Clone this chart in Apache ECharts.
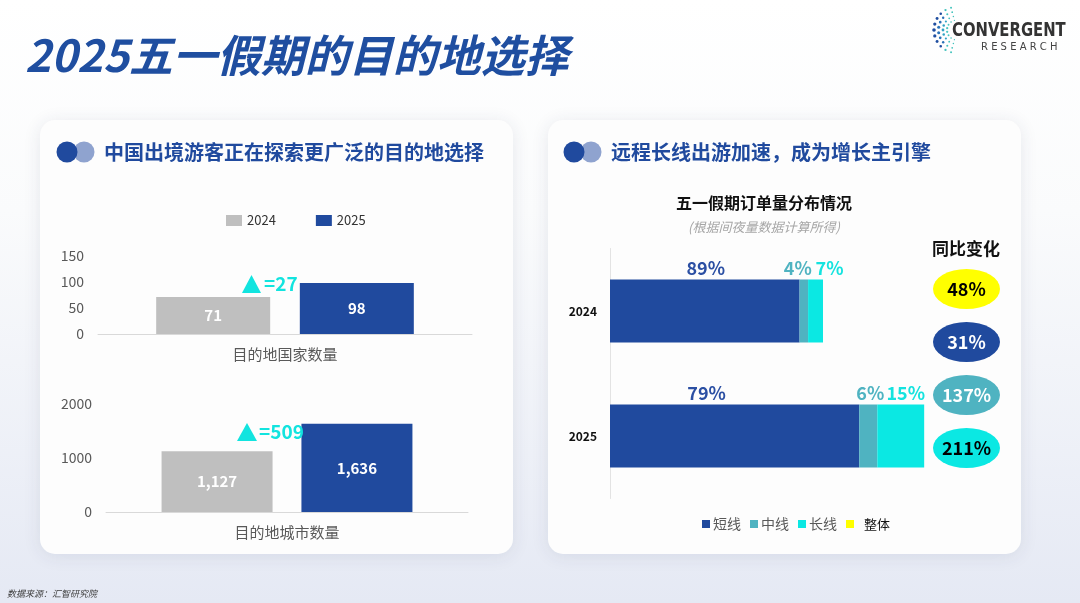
<!DOCTYPE html>
<html><head><meta charset="utf-8">
<script src="https://cdn.jsdelivr.net/npm/echarts@6/dist/echarts.min.js"></script>
<style>html,body{margin:0;padding:0;width:1080px;height:603px;overflow:hidden;background:#fff}
#c{width:1080px;height:603px}</style></head>
<body><div id="c"></div>
<script>
// ---------- data ----------
const years = ['2024', '2025'];
const countryCat = ['目的地国家数量'];
const cityCat = ['目的地城市数量'];
const countries = [71, 98];
const cities = [1127, 1636];
const countryTicks = { min: 0, max: 150, interval: 50 };
const cityTicks = { min: 0, max: 2000, interval: 1000 };

const orderYears = ['2024', '2025'];
const segNames = ['短线', '中线', '长线'];
const shortVol = [89, 117];     // relative order volume (2024 total = 100)
const midVol = [4, 8.5];
const longVol = [7, 22];
const shortPct = ['89%', '79%'];
const midPct = ['4%', '6%'];
const longPct = ['7%', '15%'];
const yoyNames = ['整体', '短线', '中线', '长线'];
const yoyValues = ['48%', '31%', '137%', '211%'];

// ---------- styles ----------
const FONT = '"Noto Sans CJK SC", "Noto Sans", sans-serif';
const BLUE = '#204a9e', GRAY = '#bfbfbf', TEAL = '#4fb3c1', CYAN = '#0be8e3', YELLOW = '#ffff00';
const ACCENT = '#12e4df';
const segColors = [BLUE, TEAL, CYAN];
const segLabelColors = ['#2b4fa3', '#4fb3c1', '#14e3df'];
const segLabelOffsets = [[[1, 0], [-28, 0]], [[-6, 0], [2, 0]], [[14, 0], [5, 0]]];
const yoyColors = [YELLOW, BLUE, TEAL, CYAN];
const yoyText = ['#000', '#fff', '#fff', '#000'];

const chart = echarts.init(document.getElementById('c'), null, { renderer: 'canvas' });

// logo dots (decoration)
const logoDots = [];
const rings = [{ r: 23, c: '#1f4ea0', s: 1.8 }, { r: 18.5, c: '#2a72b8', s: 1.6 }, { r: 14, c: '#2fa3c4', s: 1.4 }, { r: 10, c: '#49c7bf', s: 1.2 }];
rings.forEach((rg, k) => {
  const n = 11 - k;
  for (let i = 0; i < n; i++) {
    const a = (105 + (150 * i) / (n - 1)) * Math.PI / 180;
    const edge = Math.abs(i - (n - 1) / 2) / ((n - 1) / 2);
    logoDots.push({
      type: 'circle', z: 5,
      shape: { cx: 957 + rg.r * Math.cos(a), cy: 30 - rg.r * Math.sin(a), r: rg.s * (1 - 0.45 * edge) },
      style: { fill: edge > 0.6 ? '#43c3bd' : rg.c }
    });
  }
});

function card(x) {
  return {
    type: 'rect', z: -5,
    shape: { x: x, y: 120, width: 473, height: 434, r: 15 },
    style: { fill: '#fdfdfd', shadowBlur: 18, shadowColor: 'rgba(40,50,90,0.10)', shadowOffsetY: 2 }
  };
}
function header(x, text) {
  return [
    { type: 'circle', z: 5, shape: { cx: x + 27, cy: 152, r: 10.5 }, style: { fill: '#8fa3cf' } },
    { type: 'circle', z: 6, shape: { cx: x + 10, cy: 152, r: 10.5 }, style: { fill: BLUE } },
    { type: 'text', z: 6, x: x + 47, y: 152, style: { text: text, fill: BLUE, font: 'bold 20px ' + FONT, textVerticalAlign: 'middle' } }
  ];
}

const catAxisCommon = {
  type: 'category',
  axisLine: { lineStyle: { color: '#d9d9d9', width: 1 } },
  axisTick: { show: false },
  axisLabel: { color: '#595959', fontSize: 15, fontFamily: FONT, margin: 13 }
};
const valAxisCommon = {
  type: 'value',
  axisLine: { show: false }, axisTick: { show: false }, splitLine: { show: false },
  axisLabel: { color: '#595959', fontSize: 14, fontFamily: FONT, margin: 14, formatter: v => String(v) }
};
const barLabel = {
  show: true, position: 'inside', color: '#fff', fontWeight: 'bold', fontSize: 15, fontFamily: FONT,
  formatter: p => p.value.toLocaleString('en-US')
};

const option = {
  animation: false,
  textStyle: { fontFamily: FONT },
  graphic: [
    {
      type: 'rect', z: -10, shape: { x: 0, y: 0, width: 1080, height: 603 },
      style: { fill: new echarts.graphic.LinearGradient(0, 0, 0, 1, [
        { offset: 0, color: '#ffffff' }, { offset: 0.35, color: '#fafbfc' }, { offset: 1, color: '#e5e9f4' }]) }
    },
    card(40), card(548),
    { type: 'text', z: 6, x: 25, y: 55, style: { text: '2025五一假期的目的地选择', fill: '#1f4ea0', font: 'italic bold 44px ' + FONT, textVerticalAlign: 'middle' } },
    ...logoDots,
    { type: 'text', z: 6, x: 952, y: 31, scaleX: 0.78, style: { text: 'CONVERGENT', fill: '#333', font: 'bold 19px "DejaVu Sans", sans-serif', textVerticalAlign: 'middle' } },
    { type: 'text', z: 6, x: 981, y: 47, style: { text: 'R E S E A R C H', fill: '#444', font: '10px "DejaVu Sans", sans-serif', textVerticalAlign: 'middle' } },
    ...header(57, '中国出境游客正在探索更广泛的目的地选择'),
    ...header(564, '远程长线出游加速，成为增长主引擎'),
    // delta annotations
    { type: 'polygon', z: 6, shape: { points: [[242, 293], [251.5, 275], [261, 293]] }, style: { fill: ACCENT } },
    { type: 'text', z: 6, x: 264, y: 284, style: { text: '=' + (countries[1] - countries[0]), fill: ACCENT, font: 'bold 19px ' + FONT, textVerticalAlign: 'middle' } },
    { type: 'polygon', z: 6, shape: { points: [[237, 441], [247, 423], [257, 441]] }, style: { fill: ACCENT } },
    { type: 'text', z: 6, x: 259, y: 432, style: { text: '=' + (cities[1] - cities[0]), fill: ACCENT, font: 'bold 19px ' + FONT, textVerticalAlign: 'middle' } },
    // right chart titles
    { type: 'text', z: 6, x: 764, y: 203, style: { text: '五一假期订单量分布情况', fill: '#111', font: 'bold 16px ' + FONT, textAlign: 'center', textVerticalAlign: 'middle' } },
    { type: 'text', z: 6, x: 764, y: 227, style: { text: '(根据间夜量数据计算所得)', fill: '#a6a6a6', font: 'italic 13px ' + FONT, textAlign: 'center', textVerticalAlign: 'middle' } },
    { type: 'text', z: 6, x: 966, y: 249, style: { text: '同比变化', fill: '#111', font: 'bold 17px ' + FONT, textAlign: 'center', textVerticalAlign: 'middle' } },
    { type: 'text', z: 6, x: 7, y: 594, style: { text: '数据来源：汇智研究院', fill: '#404040', font: 'italic 9px ' + FONT, textVerticalAlign: 'middle' } }
  ],
  legend: [
    {
      data: years, left: 221, top: 209, itemWidth: 16, itemHeight: 11, itemGap: 40, icon: 'rect',
      textStyle: { color: '#333', fontSize: 13, fontFamily: FONT }
    },
    {
      data: [
        { name: '短线' }, { name: '中线' }, { name: '长线' },
        { name: '整体', textStyle: { color: '#111', fontSize: 13, padding: [0, 0, 0, 5] } }
      ],
      left: 697, top: 512, itemWidth: 8, itemHeight: 8, itemGap: 9, icon: 'rect',
      textStyle: { color: '#595959', fontSize: 14, fontFamily: FONT, padding: [0, 0, 0, -2] }
    }
  ],
  grid: [
    { left: 98, width: 374, top: 256, height: 78 },
    { left: 106, width: 362, top: 404, height: 108 },
    { left: 610, width: 426, top: 248.5, height: 250 },
    { left: 933, width: 67, top: 262.5, height: 212 }
  ],
  xAxis: [
    Object.assign({}, catAxisCommon, { gridIndex: 0, data: countryCat }),
    Object.assign({}, catAxisCommon, { gridIndex: 1, data: cityCat }),
    { type: 'value', gridIndex: 2, min: 0, max: 200, show: false },
    { type: 'value', gridIndex: 3, min: 0, max: 1, show: false }
  ],
  yAxis: [
    Object.assign({}, valAxisCommon, { gridIndex: 0 }, countryTicks),
    Object.assign({}, valAxisCommon, { gridIndex: 1 }, cityTicks),
    {
      type: 'category', gridIndex: 2, data: orderYears, inverse: true,
      axisLine: { lineStyle: { color: '#e3e3e3' } }, axisTick: { show: false },
      axisLabel: { color: '#111', fontWeight: 'bold', fontSize: 12, fontFamily: FONT, margin: 13 }
    },
    { type: 'category', gridIndex: 3, data: yoyNames, inverse: true, show: false }
  ],
  series: [
    { name: years[0], type: 'bar', xAxisIndex: 0, yAxisIndex: 0, data: [countries[0]], barWidth: 114, barGap: '26%', itemStyle: { color: GRAY }, label: barLabel },
    { name: years[1], type: 'bar', xAxisIndex: 0, yAxisIndex: 0, data: [countries[1]], barWidth: 114, barGap: '26%', itemStyle: { color: BLUE }, label: barLabel },
    { name: years[0], type: 'bar', xAxisIndex: 1, yAxisIndex: 1, data: [cities[0]], barWidth: 111, barGap: '26%', itemStyle: { color: GRAY }, label: barLabel },
    { name: years[1], type: 'bar', xAxisIndex: 1, yAxisIndex: 1, data: [cities[1]], barWidth: 111, barGap: '26%', itemStyle: { color: BLUE }, label: barLabel },
    ...[shortVol, midVol, longVol].map((vals, s) => ({
      name: segNames[s], type: 'bar', stack: 'orders', xAxisIndex: 2, yAxisIndex: 2, barWidth: 63,
      itemStyle: { color: segColors[s] },
      data: vals.map((v, i) => ({
        value: v,
        label: {
          show: true, position: 'top', distance: 2, offset: segLabelOffsets[s][i],
          color: segLabelColors[s], fontSize: 18, fontWeight: 'bold', fontFamily: FONT,
          formatter: [shortPct, midPct, longPct][s][i]
        }
      }))
    })),
    {
      name: '整体', type: 'scatter', xAxisIndex: 3, yAxisIndex: 3, symbol: 'circle', symbolSize: [67, 40],
      itemStyle: { color: yoyColors[0], opacity: 1 },
      data: [{ value: [0.5, yoyNames[0]], label: { show: true, position: 'inside', formatter: yoyValues[0], color: yoyText[0], fontSize: 18, fontWeight: 'bold', fontFamily: FONT } }]
    },
    {
      name: 'yoy', type: 'scatter', xAxisIndex: 3, yAxisIndex: 3, symbol: 'circle', symbolSize: [67, 40],
      data: [1, 2, 3].map(i => ({
        value: [0.5, yoyNames[i]],
        itemStyle: { color: yoyColors[i], opacity: 1 },
        label: { show: true, position: 'inside', formatter: yoyValues[i], color: yoyText[i], fontSize: 18, fontWeight: 'bold', fontFamily: FONT }
      }))
    }
  ]
};
chart.setOption(option);
</script>
</body></html>
